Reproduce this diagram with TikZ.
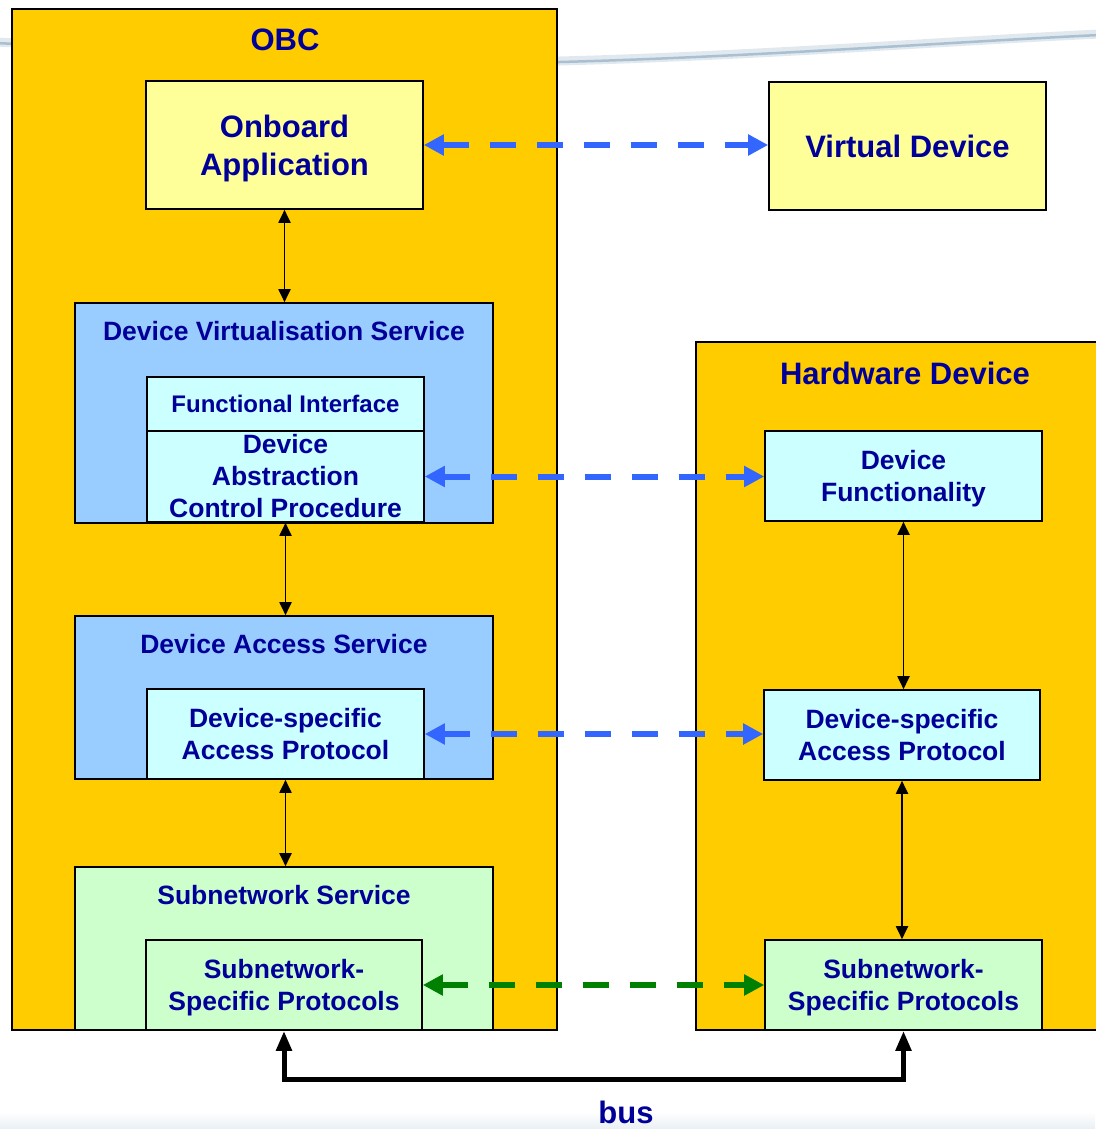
\documentclass[tikz,border=0pt]{standalone}
\usepackage{fontspec}
\setmainfont{Liberation Sans}
\usetikzlibrary{arrows.meta,calc}

\definecolor{obcorange}{HTML}{FFCC00}
\definecolor{appyellow}{HTML}{FFFF99}
\definecolor{svcblue}{HTML}{99CCFF}
\definecolor{layercyan}{HTML}{CCFFFF}
\definecolor{netgreen}{HTML}{CCFFCC}
\definecolor{textnavy}{HTML}{000099}
\definecolor{linkblue}{HTML}{3366FF}
\definecolor{linkgreen}{HTML}{008000}
\definecolor{swoosh}{HTML}{A9C0D2}

\tikzset{
  box/.style={draw=black, line width=1.6pt, inner sep=0pt, text=textnavy, align=center},
  twoline/.style={text depth=0pt},
  bigtxt/.style={font=\fontsize{31}{38}\selectfont\bfseries},
  medtxt/.style={font=\fontsize{26.5}{32}\selectfont\bfseries},
  smalltxt/.style={font=\fontsize{24}{29}\selectfont\bfseries},
  title/.style={text=textnavy, inner sep=0pt, align=center},
  stackarrow/.style={line width=1.9pt, {Triangle[length=13pt,width=12pt]}-{Triangle[length=13pt,width=12pt]}},
  peerlink/.style={line width=6pt, dash pattern=on 26pt off 21pt,
    {Triangle[length=20pt,width=20pt]}-{Triangle[length=20pt,width=20pt]}},
  busarrow/.style={line width=5pt, line join=miter,
    {Triangle[length=20pt,width=15pt]}-{Triangle[length=20pt,width=15pt]}}
}

\begin{document}
\begin{tikzpicture}[x=1pt,y=-1pt]
  \useasboundingbox (0,0) rectangle (1095,1129);

  % background decoration
  \draw[swoosh!35, line width=9pt, line cap=round]
    (-5,42) .. controls (150,49) and (400,63) .. (560,61)
            .. controls (750,56) and (950,41) .. (1100,34);
  \draw[swoosh, line width=2.5pt]
    (-5,43) .. controls (150,50) and (400,64) .. (560,62)
            .. controls (750,57) and (950,42) .. (1100,35);
  \shade[top color=white, bottom color=swoosh!25] (0,1112) rectangle (1095,1129);

  % containers
  \node[box, fill=obcorange, minimum width=545pt, minimum height=1021pt] (obc) at (284.5,519.5) {};
  \node[box, fill=obcorange, minimum width=414pt, minimum height=688pt] (hw) at (903,686) {};
  \node[title, bigtxt] (obct) at (285,40) {OBC};
  \node[title, bigtxt] (hwt) at (905,373) {Hardware Device};

  % OBC side
  \node[box, twoline, fill=appyellow, bigtxt, minimum width=277pt, minimum height=128pt] (oa) at (284.5,145) {Onboard\\Application};

  \node[box, fill=svcblue, minimum width=418pt, minimum height=220pt] (dvs) at (284,413) {};
  \node[title, medtxt] (dvst) at (284,331) {Device Virtualisation Service};
  \node[box, fill=layercyan, smalltxt, minimum width=277pt, minimum height=54pt] (fi) at (285.5,404) {Functional Interface};
  \node[box, fill=layercyan, medtxt, minimum width=277pt, minimum height=91pt] (dacp) at (285.5,476.5) {Device\\Abstraction\\Control Procedure};

  \node[box, fill=svcblue, minimum width=418pt, minimum height=163pt] (das) at (284,697.5) {};
  \node[title, medtxt] (dast) at (284,644) {Device Access Service};
  \node[box, twoline, fill=layercyan, medtxt, minimum width=277pt, minimum height=90pt] (dsap) at (285.5,734) {Device-specific\\Access Protocol};

  \node[box, fill=netgreen, minimum width=418pt, minimum height=163pt] (ss) at (284,948.5) {};
  \node[title, medtxt] (sst) at (284,895) {Subnetwork Service};
  \node[box, twoline, fill=netgreen, medtxt, minimum width=276pt, minimum height=90pt] (ssp) at (284,985) {Subnetwork-\\Specific Protocols};

  % device side
  \node[box, fill=appyellow, bigtxt, minimum width=277pt, minimum height=128pt] (vd) at (907.5,146) {Virtual Device};
  \node[box, twoline, fill=layercyan, medtxt, minimum width=277pt, minimum height=90pt] (df) at (903.5,476) {Device\\Functionality};
  \node[box, fill=layercyan, medtxt, minimum width=276pt, minimum height=90pt] (dsap2) at (902,735) {Device-specific\\Access Protocol};
  \node[box, twoline, fill=netgreen, medtxt, minimum width=277pt, minimum height=90pt] (ssp2) at (903.5,985) {Subnetwork-\\Specific Protocols};

  % vertical stack connections
  \draw[stackarrow] (oa.south) -- (oa.south |- dvs.north);
  \draw[stackarrow] (dacp.south) -- (dacp.south |- das.north);
  \draw[stackarrow] (dsap.south) -- (dsap.south |- ss.north);
  \draw[stackarrow] (df.south) -- (df.south |- dsap2.north);
  \draw[stackarrow] (dsap2.south) -- (dsap2.south |- ssp2.north);

  % peer-to-peer links
  \draw[peerlink, linkblue] (oa.east) -- (oa.east -| vd.west);
  \draw[peerlink, linkblue] (dacp.east) -- (dacp.east -| df.west);
  \draw[peerlink, linkblue] (dsap.east) -- (dsap.east -| dsap2.west);
  \draw[peerlink, linkgreen] (ssp.east) -- (ssp.east -| ssp2.west);

  % bus
  \coordinate (busl) at ($(ssp.south)+(0,49)$);
  \draw[busarrow] (ssp.south) -- (busl) -| (ssp2.south);
  \node[title, bigtxt] (bus) at (626,1112) {bus};
\end{tikzpicture}
\end{document}
